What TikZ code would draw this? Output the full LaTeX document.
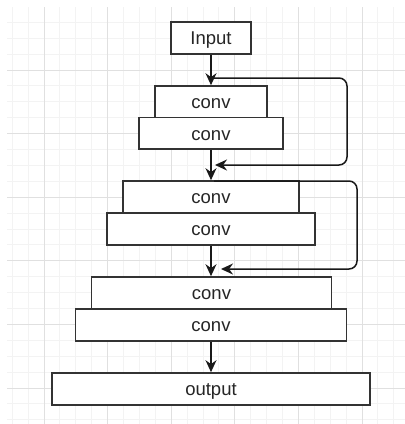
\documentclass[tikz,border=0pt]{standalone}
\usepackage{fontspec}
\setmainfont{Liberation Sans}
\usetikzlibrary{arrows.meta}
\definecolor{gridminor}{RGB}{243,243,243}
\definecolor{gridmajor}{RGB}{224,224,224}
\definecolor{edge}{RGB}{51,51,51}
\begin{document}
\begin{tikzpicture}[x=1pt,y=-1pt,
  box/.style={draw=edge, line width=1.6pt, fill=white, inner sep=0pt,
    minimum height=32pt, text height=15pt, text depth=1.5pt,
    font=\fontsize{18.5}{20}\selectfont, text=black!85},
  flow/.style={draw=black!90, line width=1.5pt,
    -{Stealth[length=12pt,width=11pt]}},
  loopback/.style={flow, rounded corners=8pt}]
% canvas
\fill[white] (0,0) rectangle (405,424);
\useasboundingbox (0,0) rectangle (405,424);
% background grid
\begin{scope}
  \clip (7,7) rectangle (405,424);
  \foreach \k in {0,...,24} {
    \pgfmathsetmacro\xx{12.2+\k*15.9}
    \draw[gridminor, line width=1pt] (\xx,7) -- (\xx,424);
  }
  \foreach \k in {1,...,26} {
    \pgfmathsetmacro\yy{6.4+\k*15.9}
    \draw[gridminor, line width=1pt] (7,\yy) -- (405,\yy);
  }
  \foreach \k in {0,...,5} {
    \pgfmathsetmacro\xx{44+\k*63.6}
    \pgfmathsetmacro\yy{70+\k*63.6}
    \draw[gridmajor, line width=1pt] (\xx,7) -- (\xx,424);
    \draw[gridmajor, line width=1pt] (7,\yy) -- (405,\yy);
  }
\end{scope}
% layers
\node[box, minimum width=80pt]  (in) at (211,38) {Input};
\node[box, minimum width=112pt, minimum height=31.5pt] (c1) at (211,101.75) {conv};
\node[box, minimum width=144pt, minimum height=31.5pt] (c2) at (211,133.25) {conv};
\node[box, minimum width=176pt] (c3) at (211,197) {conv};
\node[box, minimum width=208pt] (c4) at (211,229) {conv};
\node[box, minimum width=240pt] (c5) at (211.5,293) {conv};
\node[box, minimum width=271pt] (c6) at (211,325) {conv};
\node[box, minimum width=318pt] (out) at (211,389) {output};
% main flow
\draw[flow] (in.south) -- (c1.north);
\draw[flow] (c2.south) -- (c3.north);
\draw[flow] (c4.south) -- (c5.north -| c4.south);
\draw[flow] (c6.south) -- (out.north);
% skip connections
\coordinate (s1) at (213,78);
\coordinate (e1) at (215,165);
\coordinate (s2) at (214,181);
\coordinate (e2) at (221,269);
\draw[loopback] (s1) -- (347,78) -- (347,165) -- (e1);
\draw[loopback] (s2) -- (357,181) -- (357,269) -- (e2);
\end{tikzpicture}
\end{document}
